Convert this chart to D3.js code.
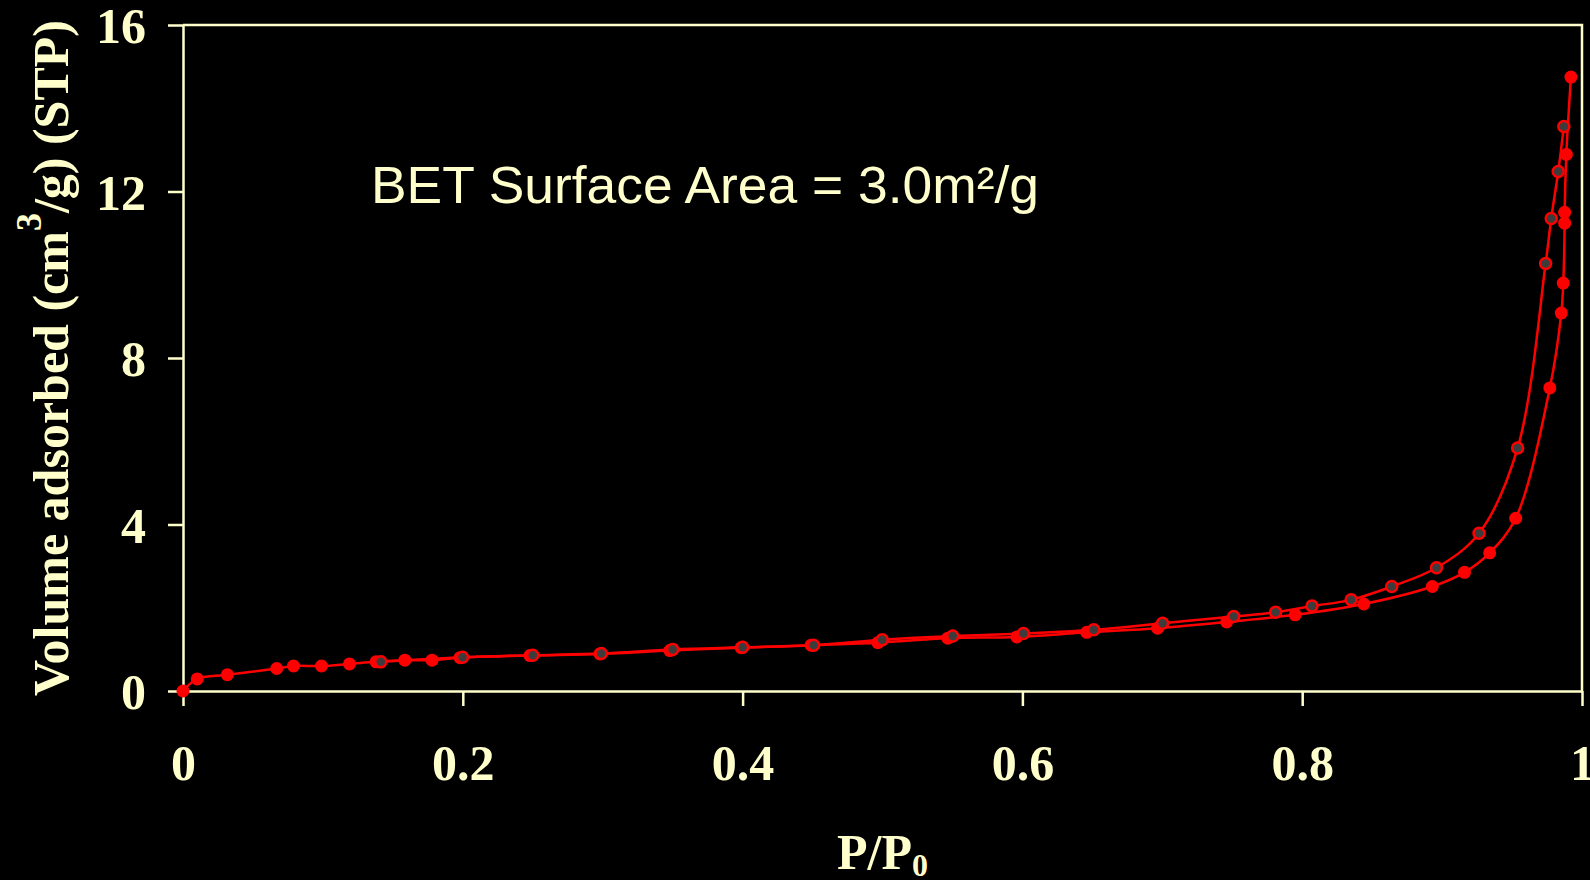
<!DOCTYPE html>
<html>
<head>
<meta charset="utf-8">
<script src="https://cdn.jsdelivr.net/npm/d3@7"></script>
<style>
  html, body { margin: 0; padding: 0; background: #000; }
  svg { display: block; }
</style>
</head>
<body>
<svg id="chart" width="1590" height="880"></svg>
<script>
// Adsorption branch (filled red markers)
const adsP = [0, 0.0102, 0.0317, 0.067, 0.079, 0.099, 0.119, 0.138, 0.1586, 0.178, 0.198, 0.248, 0.298, 0.348, 0.399, 0.449, 0.4967, 0.5467, 0.596, 0.646, 0.6967, 0.746, 0.795, 0.844, 0.893, 0.916, 0.934, 0.9526, 0.977, 0.9852, 0.9866, 0.9876, 0.9876, 0.9888, 0.9921];
const adsV = [0, 0.29, 0.39, 0.54, 0.60, 0.60, 0.65, 0.70, 0.74, 0.74, 0.80, 0.85, 0.89, 0.97, 1.04, 1.10, 1.16, 1.27, 1.30, 1.41, 1.51, 1.66, 1.83, 2.09, 2.51, 2.85, 3.32, 4.15, 7.28, 9.08, 9.80, 11.24, 11.50, 12.89, 14.75];
// Desorption branch (grey markers with red rim)
const desP = [0.987, 0.983, 0.978, 0.974, 0.954, 0.9264, 0.896, 0.864, 0.835, 0.807, 0.781, 0.751, 0.7002, 0.651, 0.6007, 0.5502, 0.4998, 0.4507, 0.400, 0.350, 0.299, 0.250, 0.1998, 0.1414];
const desV = [13.56, 12.48, 11.35, 10.27, 5.84, 3.79, 2.96, 2.51, 2.19, 2.04, 1.89, 1.79, 1.63, 1.47, 1.38, 1.32, 1.23, 1.10, 1.05, 1.00, 0.90, 0.86, 0.81, 0.70];

const xTicks = [0, 0.2, 0.4, 0.6, 0.8, 1];
const xTickLabels = ["0", "0.2", "0.4", "0.6", "0.8", "1"];
const yTicks = [0, 4, 8, 12, 16];
const yTickLabels = ["0", "4", "8", "12", "16"];

const cream = "#FFFFCC";
const red = "#FF0000";
const serif = "'Liberation Serif', 'Times New Roman', serif";

const svg = d3.select("#chart");
const pLeft = 183, pRight = 1582, pTop = 25, pBottom = 691;

const x = d3.scaleLinear().domain([0, 1]).range([pLeft, pRight]);
const y = d3.scaleLinear().domain([0, 16]).range([pBottom, pTop]);

svg.append("rect").attr("width", 1590).attr("height", 880).attr("fill", "#000");

// frame (top and right)
svg.append("path")
  .attr("d", `M${pLeft},${y(16)}H${x(1)}V${y(0)}`)
  .attr("fill", "none").attr("stroke", cream).attr("stroke-width", 2.5);

// X axis
const xAxis = d3.axisBottom(x).tickValues(xTicks)
  .tickFormat((d, i) => xTickLabels[i]).tickSize(15).tickSizeOuter(0).tickPadding(40);
const gx = svg.append("g").attr("transform", `translate(0,${pBottom})`).call(xAxis);
gx.select(".domain").attr("stroke", cream).attr("stroke-width", 2.5);
gx.selectAll(".tick line").attr("stroke", cream).attr("stroke-width", 2.5);
gx.selectAll(".tick text").attr("fill", cream)
  .style("font-family", serif).style("font-weight", "bold").style("font-size", "50px")
  .attr("dy", null).attr("y", 89);

// Y axis
const yAxis = d3.axisLeft(y).tickValues(yTicks)
  .tickFormat((d, i) => yTickLabels[i]).tickSize(15).tickSizeOuter(0).tickPadding(22);
const gy = svg.append("g").attr("transform", `translate(${pLeft},0)`).call(yAxis);
gy.select(".domain").attr("stroke", cream).attr("stroke-width", 2.5);
gy.selectAll(".tick line").attr("stroke", cream).attr("stroke-width", 2.5);
gy.selectAll(".tick text").attr("fill", cream)
  .style("font-family", serif).style("font-weight", "bold").style("font-size", "50px")
  .attr("dy", "0.35em");

// Curves
const ads = adsP.map((p, i) => [p, adsV[i]]);
const des = desP.map((p, i) => [p, desV[i]]);
const line = d3.line().x(d => x(d[0])).y(d => y(d[1])).curve(d3.curveCatmullRom.alpha(0.5));

svg.append("path").datum(ads).attr("d", line)
  .attr("fill", "none").attr("stroke", red).attr("stroke-width", 2.5);
svg.append("path").datum(des).attr("d", line)
  .attr("fill", "none").attr("stroke", red).attr("stroke-width", 2.5);

svg.append("g").selectAll("circle").data(ads).join("circle")
  .attr("cx", d => x(d[0])).attr("cy", d => y(d[1])).attr("r", 6.5)
  .attr("fill", red);
svg.append("g").selectAll("circle").data(des).join("circle")
  .attr("cx", d => x(d[0])).attr("cy", d => y(d[1])).attr("r", 5.5)
  .attr("fill", "#3c3c3c").attr("stroke", red).attr("stroke-width", 2.5);

// Annotation
svg.append("text").attr("x", 371).attr("y", 203)
  .attr("fill", cream)
  .style("font-family", "'Liberation Sans', Arial, sans-serif").style("font-size", "52px")
  .attr("textLength", 668).attr("lengthAdjust", "spacingAndGlyphs")
  .text("BET Surface Area = 3.0m²/g");

// X title
const xt = svg.append("text").attr("x", (pLeft + pRight) / 2).attr("y", 869)
  .attr("text-anchor", "middle").attr("fill", cream)
  .style("font-family", serif).style("font-weight", "bold").style("font-size", "50px");
xt.append("tspan").text("P/P");
xt.append("tspan").attr("dy", 7).style("font-size", "32px").text("0");

// Y title
const yt = svg.append("text")
  .attr("transform", `translate(68,${(pTop + pBottom) / 2}) rotate(-90)`)
  .attr("text-anchor", "middle").attr("fill", cream)
  .style("font-family", serif).style("font-weight", "bold").style("font-size", "50px");
yt.append("tspan").text("Volume adsorbed (cm");
yt.append("tspan").attr("dy", -27).style("font-size", "36px").text("3");
yt.append("tspan").attr("dy", 27).text("/g) (STP)");
</script>
</body>
</html>
